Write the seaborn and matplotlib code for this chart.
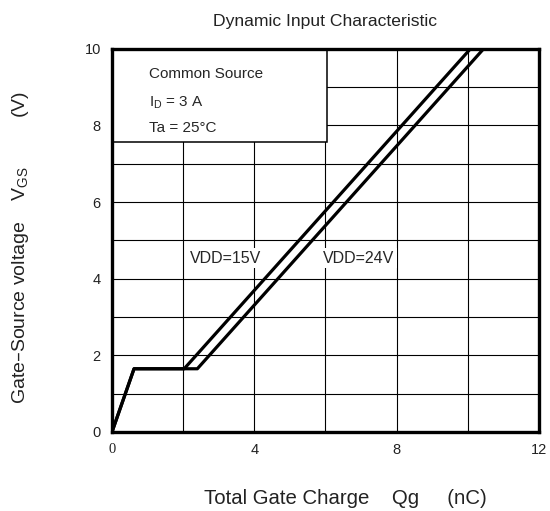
import numpy as np
import pandas as pd
import matplotlib
matplotlib.use("Agg")
import matplotlib.pyplot as plt
import seaborn as sns

# data
qg_15v = [0.0, 0.62, 2.03, 10.08]
vgs_15v = [0.0, 1.65, 1.65, 10.0]
qg_24v = [0.0, 0.62, 2.4, 10.45]
vgs_24v = [0.0, 1.65, 1.65, 10.0]
x_ticks = [0, 4, 8, 12]
y_ticks = [0, 2, 4, 6, 8, 10]

df = pd.concat([
    pd.DataFrame({"qg": qg_15v, "vgs": vgs_15v, "vdd": "VDD=15V"}),
    pd.DataFrame({"qg": qg_24v, "vgs": vgs_24v, "vdd": "VDD=24V"}),
])

sns.set_theme(style="white")
plt.rcParams["font.family"] = ["Liberation Sans", "DejaVu Sans"]

fig = plt.figure(figsize=(5.5, 5.11), dpi=100)
ax = fig.add_axes([0.2036, 0.1546, 0.776, 0.750])

sns.lineplot(data=df, x="qg", y="vgs", hue="vdd", palette=["black", "black"],
             sort=False, estimator=None, linewidth=2.3, legend=False, ax=ax, zorder=3)

ax.set_xlim(0, 12)
ax.set_ylim(0, 10)
ax.set_xticks(np.arange(0, 13, 2), minor=True)
ax.set_yticks(np.arange(0, 11, 1), minor=True)
ax.set_xticks(x_ticks)
ax.set_yticks(y_ticks)
ax.set_xticklabels([str(t) for t in x_ticks])
ax.set_yticklabels([str(t) for t in y_ticks])
ax.get_xticklabels()[0].set_family("Liberation Serif")
ax.grid(True, which="both", color="black", linewidth=0.8)
ax.tick_params(which="both", length=0, labelsize=10.5, colors="#222222", pad=8)
for s in ax.spines.values():
    s.set_color("black")
    s.set_linewidth(2.4)
    s.set_zorder(5)

ax.set_xlabel("Total Gate Charge    Qg     (nC)", fontsize=14.7, color="#222222")
ax.xaxis.set_label_coords(0.546, -0.148)
ax.set_ylabel("Gate\u2013Source voltage    V$_{\\mathregular{GS}}$         (V)", fontsize=14,
              color="#222222")
ax.yaxis.set_label_coords(-0.19, 0.48)
ax.set_title("Dynamic Input Characteristic", fontsize=12.6, pad=16.5, color="#222222")

# condition box
ax.add_patch(plt.Rectangle((0, 7.57), 6.05, 2.43, facecolor="white", edgecolor="black",
                           linewidth=1.1, zorder=4))
ax.text(1.05, 9.35, "Common Source", fontsize=11, va="center", zorder=6)
ax.text(1.05, 8.6, "I$_{\\mathregular{D}}$ = 3 A", fontsize=11, va="center", zorder=6)
ax.text(1.05, 7.92, "Ta = 25\u00b0C", fontsize=11, va="center", zorder=6)

bbox = dict(facecolor="white", edgecolor="none", pad=2)
ax.text(2.19, 4.54, "VDD=15V", fontsize=11.5, va="center", bbox=bbox, zorder=2.5)
ax.text(5.93, 4.54, "VDD=24V", fontsize=11.5, va="center", bbox=bbox, zorder=2.5)

fig.savefig("out.png", dpi=100)
